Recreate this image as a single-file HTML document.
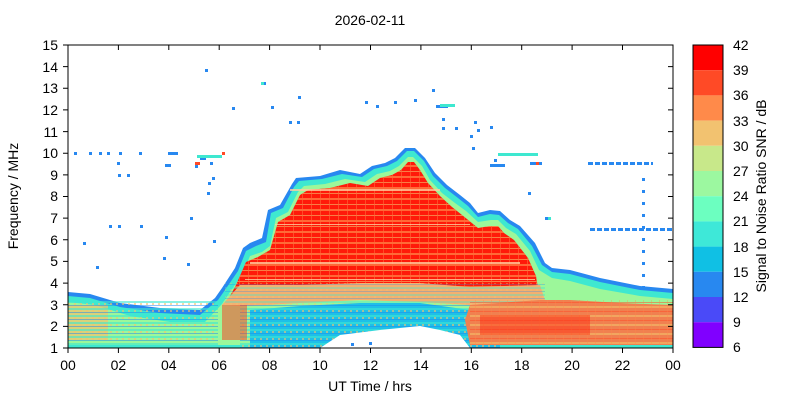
<!DOCTYPE html>
<html><head><meta charset="utf-8"><style>
body{margin:0;background:#fff}
svg text{font-family:"Liberation Sans",sans-serif;font-size:14px;fill:#000}
</style></head><body>
<svg width="800" height="400" viewBox="0 0 800 400">
<defs>
<pattern id="st" width="8" height="9" patternUnits="userSpaceOnUse">
<rect x="0" y="0" width="8" height="2" fill="#f4c26c" opacity="0.55"/>
<rect x="0" y="5" width="8" height="1" fill="#ff4a26" opacity="0.5"/>
<rect x="3" y="0" width="1" height="9" fill="#ff8a4a" opacity="0.3"/>
</pattern>
<pattern id="st2" width="6" height="7" patternUnits="userSpaceOnUse">
<rect x="0" y="0" width="6" height="2" fill="#3ee8d0" opacity="0.6"/>
<rect x="0" y="4" width="6" height="1" fill="#1e88f0" opacity="0.5"/>
<rect x="2" y="2" width="2" height="2" fill="#f4c26c" opacity="0.6"/>
</pattern>
<pattern id="st3" width="9" height="11" patternUnits="userSpaceOnUse">
<rect x="0" y="0" width="9" height="2" fill="#ff8a4a" opacity="0.7"/>
<rect x="0" y="6" width="9" height="1" fill="#f4c26c" opacity="0.6"/>
<rect x="5" y="0" width="1" height="11" fill="#ff6a3a" opacity="0.6"/>
</pattern>
</defs>
<text x="370" y="25" text-anchor="middle">2026-02-11</text>

<polygon fill="#2888f0" points="68,348 68,292 90,294 120,303 160,308 200,310 215,298 222,288 235,268 243,248 250,243 262,238 268,210 280,205 292,184 296,178 320,176 340,170 360,174 372,166 385,163 395,158 405,148 415,148 425,158 435,173 447,185 460,195 470,203 478,213 490,210 500,211 510,220 520,226 535,243 545,263 552,268 570,270 600,278 640,286 673,289 673,348"/>
<polygon fill="#3ee8d0" points="68,348 68,296 90,298 120,307 160,313 200,315 218,300 225,290 238,271 246,251 256,246 266,242 271,213 283,208 294,187 299,181 322,179 342,174 362,177 374,169 387,166 397,161 407,151 414,151 424,161 433,176 445,188 458,198 468,206 478,217 490,214 499,215 508,223 518,229 532,246 542,265 552,272 570,274 600,282 640,290 673,293 673,348"/>
<polygon fill="#9cf79a" points="68,345 68,302 95,305 130,316 170,322 205,322 222,304 230,292 242,275 250,256 262,252 270,246 276,218 288,212 298,192 304,186 325,184 345,179 365,182 377,174 390,171 399,166 408,157 413,157 422,166 430,180 442,193 455,203 466,211 478,222 491,220 498,220 506,228 516,234 530,251 539,270 552,278 570,281 600,289 640,296 673,299 673,345"/>
<polygon fill="#ff1a0a" points="228,300 236,285 246,262 258,257 270,250 278,222 290,215 300,195 308,190 330,188 350,183 368,186 380,178 392,175 401,170 408,162 414,162 420,170 428,183 440,196 452,207 462,215 478,228 490,226 498,226 504,233 514,240 528,258 536,276 540,300 520,302 470,300 420,298 360,296 300,297 250,300"/>
<polygon fill="url(#st3)" points="228,300 236,285 246,262 258,257 270,250 278,222 290,215 300,195 308,190 330,188 350,183 368,186 380,178 392,175 401,170 408,162 414,162 420,170 428,183 440,196 452,207 462,215 478,228 490,226 498,226 504,233 514,240 528,258 536,276 540,300 520,302 470,300 420,298 360,296 300,297 250,300"/>
<g fill="#ffd0a0" opacity="0.8">
<rect x="290" y="189" width="150" height="2"/><rect x="275" y="224" width="195" height="1"/><rect x="250" y="262" width="270" height="2"/><rect x="245" y="279" width="290" height="1"/>
</g>
<polygon fill="#f4b070" points="222,305 240,285 300,285 360,283 420,283 470,287 540,285 545,300 520,306 470,305 420,302 360,300 300,303 250,306"/>
<rect x="225" y="283" width="320" height="22" fill="url(#st2)" opacity="0.6"/>
<rect x="68" y="305" width="40" height="35" fill="#f4c26c" opacity="0.7"/>
<rect x="68" y="300" width="150" height="45" fill="url(#st2)"/>
<polygon fill="#1ec0e8" points="250,348 250,310 300,306 360,303 420,303 470,310 500,315 500,348"/>
<rect x="240" y="305" width="260" height="43" fill="url(#st2)"/>
<polygon fill="#fff" points="320,348 340,335 380,330 420,326 440,330 460,335 470,348"/>
<polygon fill="#f08050" points="470,305 540,300 570,300 620,303 673,305 673,345 470,345 465,320"/>
<rect x="470" y="300" width="203" height="45" fill="url(#st)"/>
<rect x="480" y="315" width="110" height="20" fill="#ff2a10" opacity="0.45"/>
<rect x="222" y="305" width="25" height="35" fill="#ff3a20" opacity="0.5"/>
<g stroke="#2888f0" stroke-width="3">
<line x1="588" y1="163.5" x2="653" y2="163.5" stroke-dasharray="5 2"/>
<line x1="590" y1="229.5" x2="673" y2="229.5" stroke-dasharray="5 2"/>
<line x1="643.5" y1="178" x2="643.5" y2="290" stroke-dasharray="3 9"/>
</g>
<g fill="#2888f0">
<rect x="74" y="152" width="3" height="3"/><rect x="89" y="152" width="3" height="3"/><rect x="99" y="152" width="3" height="3"/><rect x="107" y="152" width="3" height="3"/><rect x="117" y="162" width="3" height="3"/><rect x="119" y="152" width="3" height="3"/><rect x="139" y="152" width="3" height="3"/><rect x="165" y="164" width="6" height="3"/><rect x="168" y="152" width="10" height="3"/><rect x="195" y="165" width="3" height="3"/><rect x="200" y="157" width="6" height="3"/><rect x="210" y="162" width="3" height="3"/><rect x="208" y="182" width="3" height="3"/><rect x="212" y="177" width="3" height="3"/><rect x="207" y="192" width="3" height="3"/><rect x="190" y="217" width="3" height="3"/><rect x="213" y="240" width="3" height="3"/><rect x="118" y="174" width="3" height="3"/><rect x="127" y="174" width="3" height="3"/><rect x="109" y="225" width="3" height="3"/><rect x="118" y="225" width="3" height="3"/><rect x="140" y="225" width="3" height="3"/><rect x="165" y="236" width="3" height="3"/><rect x="187" y="263" width="3" height="3"/><rect x="163" y="257" width="3" height="3"/><rect x="96" y="266" width="3" height="3"/><rect x="83" y="242" width="3" height="3"/><rect x="232" y="107" width="3" height="3"/><rect x="271" y="106" width="3" height="3"/><rect x="289" y="121" width="3" height="3"/><rect x="297" y="121" width="3" height="3"/><rect x="298" y="96" width="3" height="3"/><rect x="365" y="101" width="3" height="3"/><rect x="376" y="105" width="3" height="3"/><rect x="394" y="101" width="3" height="3"/><rect x="414" y="99" width="3" height="3"/><rect x="432" y="89" width="3" height="3"/><rect x="436" y="105" width="12" height="3"/><rect x="442" y="118" width="3" height="3"/><rect x="442" y="127" width="3" height="3"/><rect x="455" y="127" width="3" height="3"/><rect x="474" y="121" width="3" height="3"/><rect x="477" y="129" width="3" height="3"/><rect x="490" y="126" width="3" height="3"/><rect x="494" y="159" width="3" height="3"/><rect x="472" y="147" width="3" height="3"/><rect x="470" y="135" width="3" height="3"/><rect x="530" y="162" width="12" height="3"/><rect x="528" y="192" width="3" height="3"/><rect x="545" y="217" width="3" height="3"/><rect x="205" y="69" width="3" height="3"/><rect x="263" y="82" width="3" height="3"/><rect x="351" y="343" width="3" height="3"/><rect x="369" y="342" width="3" height="3"/><rect x="490" y="164" width="15" height="3"/>
</g>
<g fill="#3ee8d0"><rect x="498" y="153" width="40" height="3"/><rect x="440" y="104" width="15" height="3"/><rect x="197" y="155" width="25" height="3"/><rect x="261" y="82" width="3" height="3"/><rect x="548" y="217" width="3" height="3"/></g>
<g fill="#ff4a26"><rect x="195" y="162" width="5" height="3"/><rect x="222" y="152" width="3" height="3"/><rect x="536" y="162" width="3" height="3"/></g>

<rect x="68" y="45" width="605" height="303" fill="none" stroke="#000" stroke-width="1"/>
<g stroke="#000" stroke-width="1">
<path d="M68,348v5M118.4,348v5M168.8,348v5M219.2,348v5M269.6,348v5M320,348v5M370.5,348v5M420.9,348v5M471.3,348v5M521.7,348v5M572.1,348v5M622.5,348v5M673,348v5"/>
<path d="M118.4,45v5M168.8,45v5M219.2,45v5M269.6,45v5M320,45v5M370.5,45v5M420.9,45v5M471.3,45v5M521.7,45v5M572.1,45v5M622.5,45v5"/>
<path d="M63,348h5M63,326.4h5M63,304.7h5M63,283.1h5M63,261.4h5M63,239.8h5M63,218.1h5M63,196.5h5M63,174.9h5M63,153.2h5M63,131.6h5M63,109.9h5M63,88.3h5M63,66.6h5M63,45h5"/>
<path d="M668,326.4h5M668,304.7h5M668,283.1h5M668,261.4h5M668,239.8h5M668,218.1h5M668,196.5h5M668,174.9h5M668,153.2h5M668,131.6h5M668,109.9h5M668,88.3h5M668,66.6h5"/>
</g>
<g text-anchor="end">
<text x="58" y="353">1</text><text x="58" y="331">2</text><text x="58" y="310">3</text><text x="58" y="288">4</text><text x="58" y="266">5</text><text x="58" y="245">6</text><text x="58" y="223">7</text><text x="58" y="201">8</text><text x="58" y="180">9</text><text x="58" y="158">10</text><text x="58" y="137">11</text><text x="58" y="115">12</text><text x="58" y="93">13</text><text x="58" y="72">14</text><text x="58" y="50">15</text>
</g>
<g text-anchor="middle">
<text x="68" y="370">00</text><text x="118.4" y="370">02</text><text x="168.8" y="370">04</text><text x="219.2" y="370">06</text><text x="269.6" y="370">08</text><text x="320" y="370">10</text><text x="370.5" y="370">12</text><text x="420.9" y="370">14</text><text x="471.3" y="370">16</text><text x="521.7" y="370">18</text><text x="572.1" y="370">20</text><text x="622.5" y="370">22</text><text x="673" y="370">00</text>
</g>
<text x="370" y="391" text-anchor="middle">UT Time / hrs</text>
<text transform="translate(18,196) rotate(-90)" text-anchor="middle">Frequency / MHz</text>

<g>
<rect x="693" y="45" width="30" height="25.2" fill="#ff0000"/>
<rect x="693" y="70.2" width="30" height="25.2" fill="#ff4a26"/>
<rect x="693" y="95.4" width="30" height="25.2" fill="#ff8a4a"/>
<rect x="693" y="120.6" width="30" height="25.2" fill="#f2c270"/>
<rect x="693" y="145.8" width="30" height="25.2" fill="#c8e88a"/>
<rect x="693" y="171" width="30" height="25.2" fill="#9cf8a0"/>
<rect x="693" y="196.2" width="30" height="25.2" fill="#6cffc0"/>
<rect x="693" y="221.4" width="30" height="25.2" fill="#3ee8d8"/>
<rect x="693" y="246.6" width="30" height="25.2" fill="#10c0e4"/>
<rect x="693" y="271.8" width="30" height="25.2" fill="#2888f0"/>
<rect x="693" y="297" width="30" height="25.2" fill="#4a4af8"/>
<rect x="693" y="322.2" width="30" height="25.2" fill="#8000ff"/>
<rect x="693" y="45" width="30" height="302.4" fill="none" stroke="#000"/>
</g>
<g>
<text x="733" y="50">42</text><text x="733" y="75">39</text><text x="733" y="100">36</text><text x="733" y="126">33</text><text x="733" y="151">30</text><text x="733" y="176">27</text><text x="733" y="201">24</text><text x="733" y="226">21</text><text x="733" y="252">18</text><text x="733" y="277">15</text><text x="733" y="302">12</text><text x="733" y="327">9</text><text x="733" y="352">6</text>
</g>
<text transform="translate(766,196) rotate(-90)" text-anchor="middle">Signal to Noise Ratio SNR / dB</text>
</svg>
</body></html>
